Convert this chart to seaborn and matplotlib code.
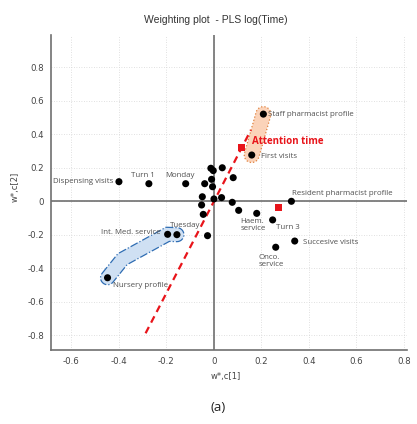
import numpy as np
import matplotlib
matplotlib.use("Agg")
import matplotlib.pyplot as plt
import seaborn as sns
import pandas as pd
from matplotlib.patches import Polygon
from matplotlib.ticker import MultipleLocator, FuncFormatter

# X-variable weights w*c[1], w*c[2]
names = ["Dispensing visits", "Turn 1", "Monday", "v04", "v05", "v06", "v07", "v08",
         "v09", "v10", "v11", "v12", "v13", "v14", "v15", "v16", "v17",
         "Haem. service", "Turn 3", "v20", "Succesive visits", "Onco. service",
         "Int. Med. service", "Tuesday", "Nursery profile",
         "Staff pharmacist profile", "First visits", "Resident pharmacist profile"]
w1 = [-0.40, -0.274, -0.119, -0.039, -0.013, -0.003, 0.035, 0.081,
      -0.010, -0.006, -0.049, 0.000, 0.032, -0.052, 0.077, -0.045, 0.104,
      0.180, 0.247, -0.027, 0.340, 0.260,
      -0.195, -0.156, -0.448,
      0.208, 0.159, 0.326]
w2 = [0.117, 0.105, 0.105, 0.105, 0.197, 0.183, 0.200, 0.141,
      0.131, 0.087, 0.027, 0.014, 0.022, -0.022, -0.006, -0.078, -0.054,
      -0.072, -0.111, -0.205, -0.237, -0.274,
      -0.197, -0.199, -0.456,
      0.520, 0.276, 0.000]
point_labels = {
    "Dispensing visits": "Dispensing visits",
    "Turn 1": "Turn 1",
    "Monday": "Monday",
    "Haem. service": "Haem.\nservice",
    "Turn 3": "Turn 3",
    "Succesive visits": "Succesive visits",
    "Onco. service": "Onco.\nservice",
    "Int. Med. service": "Int. Med. service",
    "Tuesday": "Tuesday",
    "Nursery profile": "Nursery profile",
    "Staff pharmacist profile": "Staff pharmacist profile",
    "First visits": "First visits",
    "Resident pharmacist profile": "Resident pharmacist profile",
}

# Y-variable weights (responses)
resp_names = ["Attention time", "log(Time)"]
resp_w1 = [0.117, 0.272]
resp_w2 = [0.320, -0.036]

# Highlighted groups
group_staff = ["Staff pharmacist profile", "First visits"]
group_nursery = ["Nursery profile", "Int. Med. service", "Tuesday"]

# label placement: (dx, dy) in pixels, horizontal alignment
label_place = {
    "Dispensing visits": (-6, 0.5, "right"),
    "Turn 1": (-5.5, 8.5, "center"),
    "Monday": (-5.5, 8.5, "center"),
    "Haem. service": (-16, -12, "left"),
    "Turn 3": (3, -7.5, "left"),
    "Succesive visits": (8, -1, "left"),
    "Onco. service": (-17.5, -13.5, "left"),
    "Int. Med. service": (-7, 2, "right"),
    "Tuesday": (-7.5, 9.5, "left"),
    "Nursery profile": (5.5, -7.5, "left"),
    "Staff pharmacist profile": (4.5, 0, "left"),
    "First visits": (9, -1, "left"),
    "Resident pharmacist profile": (0.5, 7.3, "left"),
}

df = pd.DataFrame({"name": names, "w1": w1, "w2": w2})
resp = pd.DataFrame({"name": resp_names, "w1": resp_w1, "w2": resp_w2})

sns.set_style("white")
plt.rcParams["axes.unicode_minus"] = False
plt.rcParams["font.family"] = ["DejaVu Sans"]

fig = plt.figure(figsize=(4.17, 4.24), dpi=100)
ax = fig.add_axes([0.1223, 0.1745, 0.8537, 0.743])
ax.set_xlim(-0.686, 0.8126)
ax.set_ylim(-0.887, 0.992)

RED = "#e8141a"
AXC = "#707070"

ax.xaxis.set_major_locator(MultipleLocator(0.2))
ax.yaxis.set_major_locator(MultipleLocator(0.2))
ax.xaxis.set_minor_locator(MultipleLocator(0.1))
ax.yaxis.set_minor_locator(MultipleLocator(0.1))
fmt = FuncFormatter(lambda v, p: "0" if abs(v) < 1e-9 else f"{v:.1f}")
ax.xaxis.set_major_formatter(fmt)
ax.yaxis.set_major_formatter(fmt)
ax.tick_params(which="major", direction="out", length=3, width=0.8, color=AXC,
               labelsize=6.2, labelcolor="#444444", pad=2)
ax.tick_params(which="minor", direction="out", length=1.8, width=0.6, color=AXC)
ax.set_xticks([t for t in np.arange(-0.6, 0.81, 0.2)])
ax.set_yticks([t for t in np.arange(-0.8, 0.81, 0.2)])

ax.grid(True, which="major", ls=(0, (1, 2)), color="#d6d6d6", lw=0.6)
for s in ["top", "right"]:
    ax.spines[s].set_visible(False)
for s in ["left", "bottom"]:
    ax.spines[s].set_color(AXC)
    ax.spines[s].set_linewidth(1.2)
ax.axhline(0, color=AXC, lw=1.2, zorder=1)
ax.axvline(0, color=AXC, lw=1.2, zorder=1)


def band(points, r):
    """Rounded outline of a polyline, r in pixels, returned in data coords."""
    P = ax.transData.transform(np.asarray(points, dtype=float))
    d = np.diff(P, axis=0)
    d /= np.linalg.norm(d, axis=1)[:, None]
    nrm = np.column_stack([-d[:, 1], d[:, 0]])
    left, right = [], []
    n = len(P)
    for i in range(n):
        if i == 0:
            m = nrm[0]
        elif i == n - 1:
            m = nrm[-1]
        else:
            m = nrm[i - 1] + nrm[i]
            m = m / np.linalg.norm(m)
            m = m / max(np.dot(m, nrm[i]), 0.5)
        left.append(P[i] + r * m)
        right.append(P[i] - r * m)
    a0 = np.arctan2(nrm[0, 1], nrm[0, 0])
    a1 = np.arctan2(nrm[-1, 1], nrm[-1, 0])
    end_cap = [P[-1] + r * np.array([np.cos(a), np.sin(a)])
               for a in np.linspace(a1, a1 - np.pi, 14)]
    start_cap = [P[0] + r * np.array([np.cos(a), np.sin(a)])
                 for a in np.linspace(a0 + np.pi, a0, 14)]
    outline = np.vstack([left, end_cap, right[::-1], start_cap])
    return ax.transData.inverted().transform(outline)


pos = df.set_index("name")
staff_path = [pos.loc[k, ["w1", "w2"]].values for k in group_staff]
ax.add_patch(Polygon(band(staff_path, 7.5), closed=True, facecolor="#fbd3b9",
                     edgecolor="#e0823f", ls=":", lw=0.9, zorder=2))

nur = [pos.loc[k, ["w1", "w2"]].values for k in group_nursery]
nursery_path = [nur[0], (-0.385, -0.345), (-0.25, -0.24), nur[1], nur[2]]
ax.add_patch(Polygon(band(nursery_path, 7), closed=True, facecolor="#cfe0f3",
                     edgecolor="#2f6db3", ls="-.", lw=0.9, zorder=2))

# Direction of the Attention time response through the origin
att = resp.iloc[0]
t = np.array([-2.46, 1.33])
ax.plot(t * att.w1, t * att.w2, color=RED, lw=1.6, ls=(0, (3.2, 2.2)), zorder=3)

sns.scatterplot(data=df, x="w1", y="w2", color="black", s=26, edgecolor="none",
                ax=ax, zorder=5, legend=False)
sns.scatterplot(data=resp, x="w1", y="w2", color=RED, marker="s", s=24,
                edgecolor="none", ax=ax, zorder=5, legend=False)
ax.set_xlabel("")
ax.set_ylabel("")

for _, row in df.iterrows():
    if row["name"] in point_labels:
        dx, dy, ha = label_place[row["name"]]
        ax.annotate(point_labels[row["name"]], (row.w1, row.w2),
                    xytext=(dx, dy), textcoords="offset pixels",
                    ha=ha, va="center", fontsize=5.7, color="#505050",
                    family=["Open Sans", "DejaVu Sans"], linespacing=1.05, zorder=6)

ax.annotate("Attention time", (att.w1, att.w2), xytext=(10, 6.5),
            textcoords="offset pixels", ha="left", va="center", fontsize=7,
            fontweight="bold", color=RED, family=["Open Sans", "DejaVu Sans"], zorder=6)

fig.text(0.518, 0.953, "Weighting plot  - PLS log(Time)", ha="center", va="center",
         fontsize=7.5, color="#333333", family=["Liberation Sans", "DejaVu Sans"])
fig.text(0.542, 0.111, "w*,c[1]", ha="center", va="center", fontsize=6, color="#444444")
fig.text(0.036, 0.559, "w*,c[2]", ha="center", va="center", rotation=90,
         fontsize=6, color="#444444")
fig.text(0.523, 0.038, "(a)", ha="center", va="center", fontsize=9.5, color="#222222",
         family=["Open Sans", "DejaVu Sans"])

fig.savefig("out.png", dpi=100)
